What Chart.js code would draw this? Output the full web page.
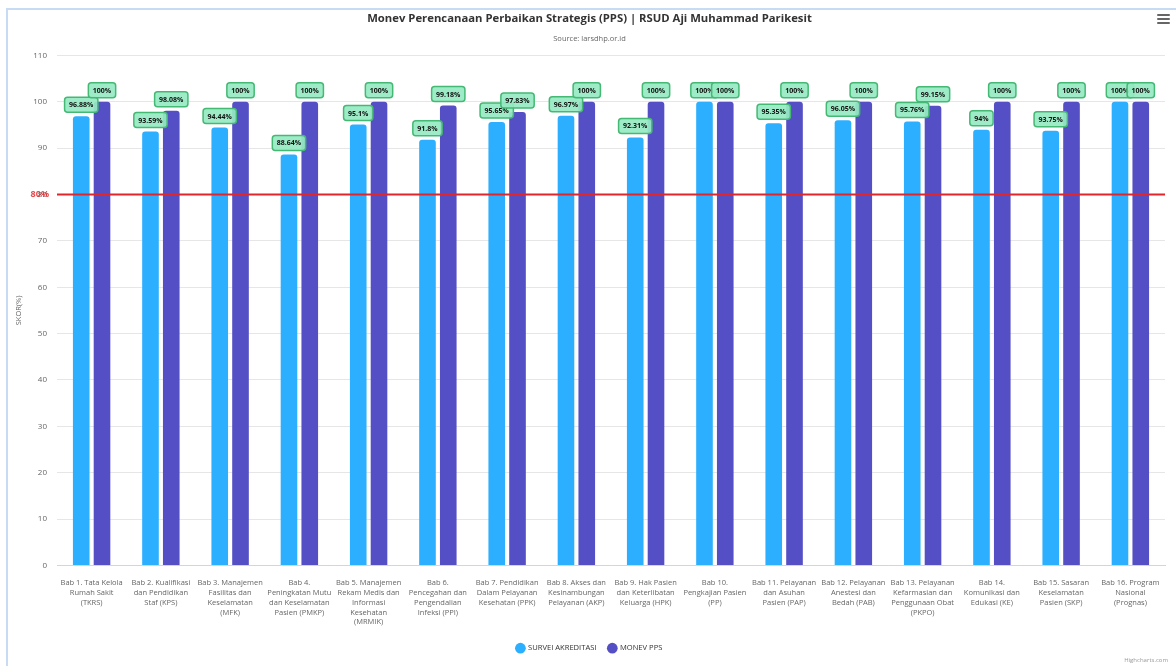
<!DOCTYPE html>
<html>
<head>
<meta charset="utf-8">
<script src="https://cdn.jsdelivr.net/npm/chart.js@4.4.1/dist/chart.umd.min.js"></script>
<style>
  html, body { margin: 0; padding: 0; background: #fff; }
  body { width: 1176px; height: 666px; position: relative; overflow: hidden; font-family: "Open Sans", Arial, sans-serif; }
  #frame { position: absolute; left: 6px; top: 8px; width: 1180px; height: 670px; border-left: 2px solid #c7dbf4; border-top: 2px solid #c7dbf4; }
  #wrap { position: absolute; left: 0; top: 0; width: 1176px; height: 666px; }
  #menu { position: absolute; left: 1157px; top: 14px; width: 13px; }
  #menu span { display: block; height: 2px; background: #666; margin-bottom: 2px; border-radius: 1px; }
  #credit { position: absolute; right: 8px; top: 656px; font-size: 6px; color: #999; }
</style>
</head>
<body>
<div id="frame"></div>
<div id="wrap"><canvas id="chart"></canvas></div>
<div id="menu"><span></span><span></span><span></span></div>
<div id="credit">Highcharts.com</div>
<script>
// Monev PPS chart — two series per chapter, target line at 80

const CATEGORIES = [
  ['Bab 1. Tata Kelola', 'Rumah Sakit', '(TKRS)'],
  ['Bab 2. Kualifikasi', 'dan Pendidikan', 'Staf (KPS)'],
  ['Bab 3. Manajemen', 'Fasilitas dan', 'Keselamatan', '(MFK)'],
  ['Bab 4.', 'Peningkatan Mutu', 'dan Keselamatan', 'Pasien (PMKP)'],
  ['Bab 5. Manajemen', 'Rekam Medis dan', 'Informasi', 'Kesehatan', '(MRMIK)'],
  ['Bab 6.', 'Pencegahan dan', 'Pengendalian', 'Infeksi (PPI)'],
  ['Bab 7. Pendidikan', 'Dalam Pelayanan', 'Kesehatan (PPK)'],
  ['Bab 8. Akses dan', 'Kesinambungan', 'Pelayanan (AKP)'],
  ['Bab 9. Hak Pasien', 'dan Keterlibatan', 'Keluarga (HPK)'],
  ['Bab 10.', 'Pengkajian Pasien', '(PP)'],
  ['Bab 11. Pelayanan', 'dan Asuhan', 'Pasien (PAP)'],
  ['Bab 12. Pelayanan', 'Anestesi dan', 'Bedah (PAB)'],
  ['Bab 13. Pelayanan', 'Kefarmasian dan', 'Penggunaan Obat', '(PKPO)'],
  ['Bab 14.', 'Komunikasi dan', 'Edukasi (KE)'],
  ['Bab 15. Sasaran', 'Keselamatan', 'Pasien (SKP)'],
  ['Bab 16. Program', 'Nasional', '(Prognas)']
];

const SURVEI = [96.88, 93.59, 94.44, 88.64, 95.1, 91.8, 95.65, 96.97, 92.31, 100, 95.35, 96.05, 95.76, 94, 93.75, 100];
const MONEV = [100, 98.08, 100, 100, 100, 99.18, 97.83, 100, 100, 100, 100, 100, 99.15, 100, 100, 100];

const Y_TICKS = [0, 10, 20, 30, 40, 50, 60, 70, 80, 90, 100, 110];
const TARGET = 80;

const FONT = '"Open Sans", Arial, sans-serif';

// green boxed labels above each bar
const dataLabels = {
  id: 'dataLabels',
  afterDatasetsDraw(chart) {
    const ctx = chart.ctx;
    ctx.save();
    ctx.font = 'bold 7px ' + FONT;
    ctx.textAlign = 'center';
    ctx.textBaseline = 'middle';
    chart.data.datasets.forEach((ds, di) => {
      const meta = chart.getDatasetMeta(di);
      meta.data.forEach((bar, i) => {
        const txt = ds.data[i] + '%';
        const w = ctx.measureText(txt).width + 9;
        const h = 15;
        const x = bar.x - w / 2;
        const y = bar.y - 4 - h;
        ctx.beginPath();
        ctx.roundRect(x, y, w, h, 3);
        ctx.fillStyle = 'rgba(150, 234, 194, 0.92)';
        ctx.fill();
        ctx.lineWidth = 1.5;
        ctx.strokeStyle = '#45b874';
        ctx.stroke();
        ctx.fillStyle = '#111';
        ctx.fillText(txt, bar.x, y + h / 2 + 0.5);
      });
    });
    ctx.restore();
  }
};

// red target line at 80 with its label
const targetLine = {
  id: 'targetLine',
  afterDatasetsDraw(chart) {
    const { ctx, chartArea, scales } = chart;
    const y = scales.y.getPixelForValue(TARGET);
    ctx.save();
    ctx.strokeStyle = '#e0262b';
    ctx.lineWidth = 2;
    ctx.beginPath();
    ctx.moveTo(chartArea.left, y);
    ctx.lineTo(chartArea.right, y);
    ctx.stroke();
    ctx.font = 'bold 9px ' + FONT;
    ctx.fillStyle = 'rgba(224, 38, 43, 0.85)';
    ctx.textAlign = 'right';
    ctx.textBaseline = 'middle';
    ctx.fillText(TARGET + '%', chartArea.left - 8, y);
    ctx.restore();
  }
};

new Chart(document.getElementById('chart'), {
  type: 'bar',
  data: {
    labels: CATEGORIES,
    datasets: [
      {
        label: 'SURVEI AKREDITASI',
        data: SURVEI,
        backgroundColor: '#2caffe',
        borderRadius: 3,
        categoryPercentage: 0.6,
        barPercentage: 0.8
      },
      {
        label: 'MONEV PPS',
        data: MONEV,
        backgroundColor: '#544fc5',
        borderRadius: 3,
        categoryPercentage: 0.6,
        barPercentage: 0.8
      }
    ]
  },
  options: {
    responsive: true,
    maintainAspectRatio: false,
    animation: false,
    layout: { padding: { top: 12, left: 14, right: 11, bottom: 4 } },
    plugins: {
      title: {
        display: true,
        text: 'Monev Perencanaan Perbaikan Strategis (PPS) | RSUD Aji Muhammad Parikesit',
        color: '#333',
        font: { family: FONT, size: 11.3, weight: 'bold' },
        padding: { top: 0, bottom: 8.4 }
      },
      subtitle: {
        display: true,
        text: 'Source: larsdhp.or.id',
        color: '#666',
        font: { family: FONT, size: 7.5 },
        padding: { top: 0, bottom: 12.5 }
      },
      legend: {
        position: 'bottom',
        labels: {
          usePointStyle: true,
          pointStyle: 'circle',
          boxWidth: 8,
          boxHeight: 8,
          padding: 12,
          color: '#333',
          font: { family: FONT, size: 7.6 }
        }
      },
      tooltip: { enabled: false }
    },
    scales: {
      x: {
        grid: { display: false },
        border: { color: '#ccd6eb' },
        ticks: {
          color: '#666',
          font: { family: FONT, size: 7.5, lineHeight: 1.3 },
          maxRotation: 0,
          autoSkip: false,
          padding: 5
        },
        afterFit: (s) => { s.height = 67; }
      },
      y: {
        min: 0,
        max: 110,
        afterBuildTicks: (s) => { s.ticks = Y_TICKS.map(v => ({ value: v })); },
        grid: { color: '#e6e6e6', drawTicks: false },
        border: { display: false },
        ticks: { color: '#666', font: { family: FONT, size: 8 }, padding: 10 },
        title: {
          display: true,
          text: 'SKOR(%)',
          color: '#666',
          font: { family: FONT, size: 7.5 },
          padding: 0
        },
        afterFit: (s) => { s.width = 43; }
      }
    }
  },
  plugins: [targetLine, dataLabels]
});
</script>
</body>
</html>
